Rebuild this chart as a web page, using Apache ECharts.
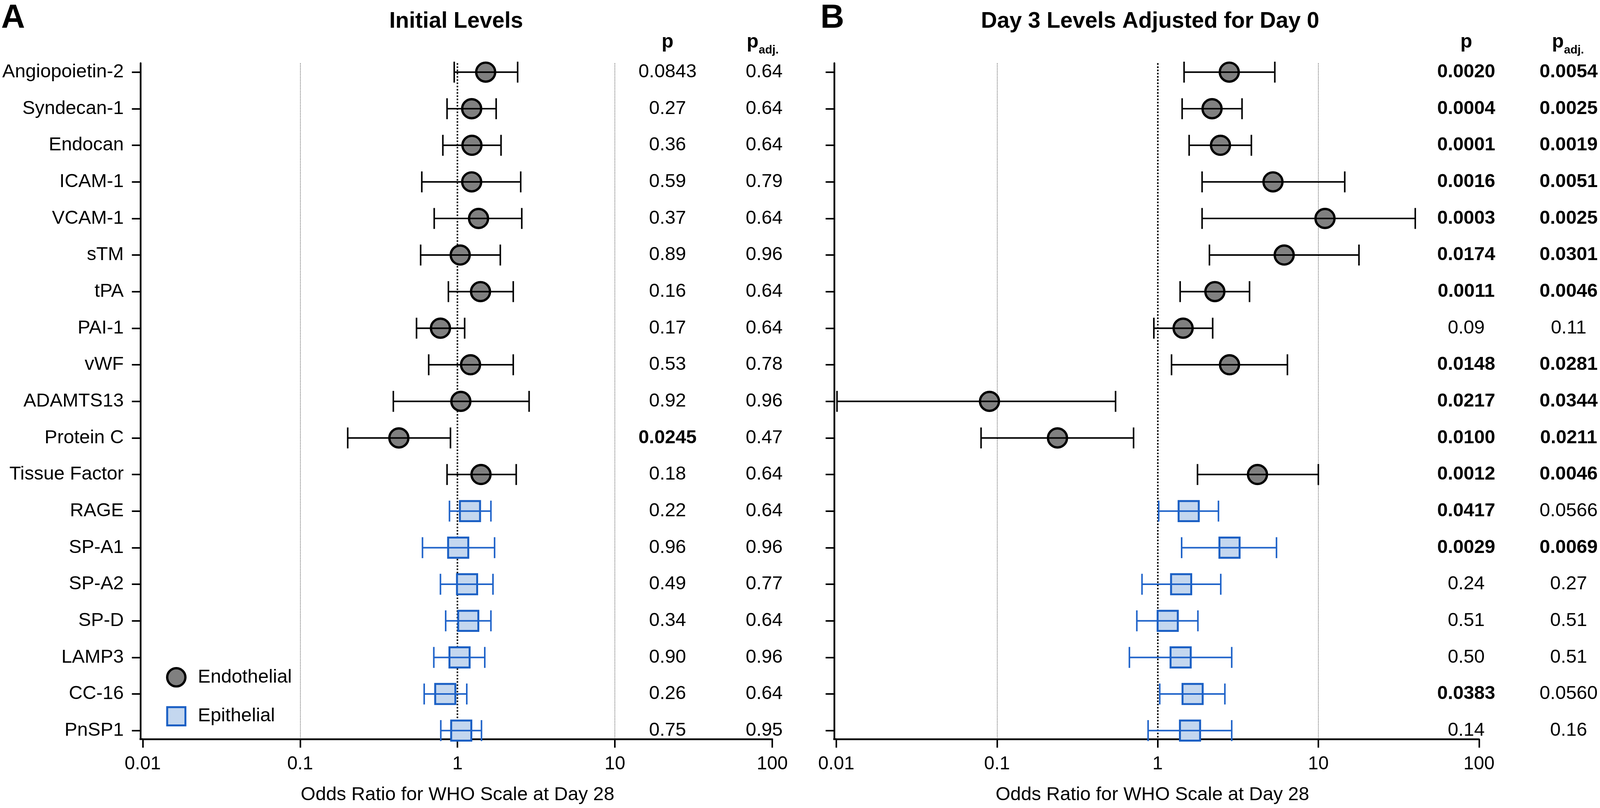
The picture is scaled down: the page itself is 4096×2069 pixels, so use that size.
<!DOCTYPE html>
<html>
<head>
<meta charset="utf-8">
<script src="https://cdn.jsdelivr.net/npm/echarts@6/dist/echarts.min.js"></script>
<style>
html,body{margin:0;padding:0;background:#fff;overflow:hidden}
#c{width:4096px;height:2069px}
</style>
</head>
<body>
<div id="c"></div>
<script>
// ---------------- DATA ----------------
const categories = ['Angiopoietin-2','Syndecan-1','Endocan','ICAM-1','VCAM-1','sTM','tPA','PAI-1','vWF','ADAMTS13','Protein C','Tissue Factor','RAGE','SP-A1','SP-A2','SP-D','LAMP3','CC-16','PnSP1'];
const groups = ['Endothelial','Endothelial','Endothelial','Endothelial','Endothelial','Endothelial','Endothelial','Endothelial','Endothelial','Endothelial','Endothelial','Endothelial','Epithelial','Epithelial','Epithelial','Epithelial','Epithelial','Epithelial','Epithelial'];

// Panel A: Initial Levels (odds ratio, lower CI, upper CI)
const orA = [1.51,1.23,1.235,1.23,1.36,1.04,1.40,0.779,1.21,1.05,0.424,1.41,1.20,1.01,1.15,1.17,1.03,0.836,1.056];
const loA = [0.953,0.858,0.807,0.593,0.711,0.583,0.875,0.549,0.656,0.391,0.2006,0.858,0.889,0.599,0.779,0.841,0.707,0.614,0.783];
const hiA = [2.41,1.76,1.89,2.52,2.56,1.87,2.26,1.11,2.26,2.85,0.902,2.36,1.63,1.72,1.68,1.63,1.49,1.145,1.42];

// Panel B: Day 3 Levels Adjusted for Day 0
const orB = [2.79,2.18,2.46,5.22,11.0,6.13,2.27,1.44,2.80,0.0898,0.238,4.18,1.56,2.80,1.40,1.155,1.39,1.65,1.59];
const loB = [1.46,1.42,1.57,1.89,1.89,2.10,1.38,0.947,1.22,0.0101,0.0796,1.77,1.015,1.41,0.799,0.742,0.667,1.03,0.872];
const hiB = [5.36,3.35,3.83,14.6,40.1,17.9,3.73,2.20,6.42,0.547,0.708,10.0,2.39,5.49,2.47,1.78,2.89,2.62,2.89];

const pA    = ['0.0843','0.27','0.36','0.59','0.37','0.89','0.16','0.17','0.53','0.92','0.0245','0.18','0.22','0.96','0.49','0.34','0.90','0.26','0.75'];
const padjA = ['0.64','0.64','0.64','0.79','0.64','0.96','0.64','0.64','0.78','0.96','0.47','0.64','0.64','0.96','0.77','0.64','0.96','0.64','0.95'];
const pB    = ['0.0020','0.0004','0.0001','0.0016','0.0003','0.0174','0.0011','0.09','0.0148','0.0217','0.0100','0.0012','0.0417','0.0029','0.24','0.51','0.50','0.0383','0.14'];
const padjB = ['0.0054','0.0025','0.0019','0.0051','0.0025','0.0301','0.0046','0.11','0.0281','0.0344','0.0211','0.0046','0.0566','0.0069','0.27','0.51','0.51','0.0560','0.16'];

const xTickValues = [0.01,0.1,1,10,100];
const xTickLabels = ['0.01','0.1','1','10','100'];
const panelTitles = ['Initial Levels','Day 3 Levels Adjusted for Day 0'];
const panelLetters = ['A','B'];
const axisTitle = 'Odds Ratio for WHO Scale at Day 28';
const legendNames = ['Endothelial','Epithelial'];

// ---------------- LAYOUT ----------------
const S = 0.993;
const px = v => v * S;
const FONT = '"Liberation Sans", Arial, Helvetica, sans-serif';
const TOP = 163, BOTTOM = 1906;
const YMIN = -0.244, YMAX = 18.234;
const panels = [
  {left:368, right:1991, yOff:6, pCol:1721, padjCol:1970, pHeadL:1925, title:1176, letterX:3, nameShift:0,
   or:orA, lo:loA, hi:hiA, p:pA, padj:padjA, labels:true},
  {left:2156, right:3813, yOff:5.5, pCol:3780, padjCol:4044, pHeadL:4001, title:2965, letterX:2115, nameShift:27,
   or:orB, lo:loB, hi:hiB, p:pB, padj:padjB, labels:false}
];
const rows = categories.map((_, i) => i);

const GRAY = '#808080', BLACK = '#000000';
const BLUE_LINE = '#1f63c9', BLUE_BORDER = '#1a5fc4', BLUE_FILL = '#c4d7ef';

function errRender(color) {
  return function (params, api) {
    const yv = api.value(2);
    const a = api.coord([api.value(0), yv]);
    const b = api.coord([api.value(1), yv]);
    const h = px(27);
    const st = {stroke: color, lineWidth: px(4), fill: null};
    return {type: 'group', children: [
      {type: 'line', shape: {x1: a[0], y1: a[1], x2: b[0], y2: b[1]}, style: st},
      {type: 'line', shape: {x1: a[0], y1: a[1] - h, x2: a[0], y2: a[1] + h}, style: st},
      {type: 'line', shape: {x1: b[0], y1: b[1] - h, x2: b[0], y2: b[1] + h}, style: st}
    ]};
  };
}

const grid = [], xAxis = [], yAxis = [], series = [];
panels.forEach((P, k) => {
  grid.push({left: px(P.left), top: px(TOP), width: px(P.right - P.left), height: px(BOTTOM - TOP), containLabel: false});
  xAxis.push({
    type: 'log', logBase: 10, gridIndex: k, min: 0.01, max: 100,
    axisLine: {show: true, onZero: false, lineStyle: {color: BLACK, width: px(4.5)}},
    axisTick: {show: true, length: px(22), lineStyle: {color: BLACK, width: px(4)}},
    minorTick: {show: false}, splitLine: {show: false}, minorSplitLine: {show: false},
    axisLabel: {
      show: true, margin: px(40), color: BLACK, fontSize: px(48), fontFamily: FONT,
      formatter: v => { const i = xTickValues.findIndex(t => Math.abs(Math.log10(t) - Math.log10(v)) < 1e-6); return i >= 0 ? xTickLabels[i] : ''; }
    },
    name: axisTitle, nameLocation: 'middle', nameGap: px(119),
    nameTextStyle: {color: BLACK, fontSize: px(49), fontFamily: FONT, padding: [0, px(P.nameShift), 0, 0]}
  });
  yAxis.push({
    type: 'value', gridIndex: k, inverse: true, min: YMIN, max: YMAX, offset: px(P.yOff),
    axisLine: {show: true, lineStyle: {color: BLACK, width: px(4.5)}},
    axisTick: {show: true, customValues: rows, length: px(22), lineStyle: {color: BLACK, width: px(4)}},
    axisLabel: {show: P.labels, customValues: rows, margin: px(43), color: BLACK, fontSize: px(49), fontFamily: FONT,
      formatter: v => categories[Math.round(v)] || ''},
    splitLine: {show: false}
  });
  const endoPts = [], epiPts = [], endoErr = [], epiErr = [];
  rows.forEach(i => {
    if (groups[i] === 'Endothelial') { endoPts.push([P.or[i], i]); endoErr.push([P.lo[i], P.hi[i], i]); }
    else { epiPts.push([P.or[i], i]); epiErr.push([P.lo[i], P.hi[i], i]); }
  });
  series.push({
    type: 'scatter', name: legendNames[0], xAxisIndex: k, yAxisIndex: k, data: endoPts, z: 3,
    symbol: 'circle', symbolSize: px(49),
    itemStyle: {color: GRAY, borderColor: BLACK, borderWidth: px(6), opacity: 1},
    markLine: {silent: true, symbol: 'none', label: {show: false}, animation: false, z: 1,
      data: [
        {xAxis: 0.1, lineStyle: {color: '#4a4a4a', width: px(1.6), type: [px(2), px(2)]}},
        {xAxis: 10, lineStyle: {color: '#4a4a4a', width: px(1.6), type: [px(2), px(2)]}},
        {xAxis: 1, lineStyle: {color: BLACK, width: px(4), type: [px(4), px(4.3)]}}
      ]}
  });
  series.push({
    type: 'scatter', name: legendNames[1], xAxisIndex: k, yAxisIndex: k, data: epiPts, z: 3,
    symbol: 'rect', symbolSize: px(52),
    itemStyle: {color: BLUE_FILL, borderColor: BLUE_BORDER, borderWidth: px(5), opacity: 1}
  });
  series.push({
    type: 'custom', name: 'errEndo' + k, xAxisIndex: k, yAxisIndex: k, data: endoErr, z: 4,
    encode: {x: [0, 1], y: 2}, renderItem: errRender(BLACK), silent: true
  });
  series.push({
    type: 'custom', name: 'errEpi' + k, xAxisIndex: k, yAxisIndex: k, data: epiErr, z: 4,
    encode: {x: [0, 1], y: 2}, renderItem: errRender(BLUE_LINE), silent: true
  });
});

const chart = echarts.init(document.getElementById('c'), null, {renderer: 'canvas', width: 4096, height: 2069});
chart.setOption({
  backgroundColor: '#ffffff',
  animation: false,
  grid, xAxis, yAxis, series,
  legend: {
    show: true, orient: 'vertical', left: px(428), top: px(1720), itemWidth: px(47), itemHeight: px(47), itemGap: px(48),
    selectedMode: false, padding: 0,
    textStyle: {color: BLACK, fontSize: px(49), lineHeight: px(47), fontFamily: FONT, padding: [0, 0, 0, px(27)]},
    data: [
      {name: legendNames[0], icon: 'circle', itemStyle: {color: GRAY, borderColor: BLACK, borderWidth: px(6)}},
      {name: legendNames[1], icon: 'rect', itemStyle: {color: BLUE_FILL, borderColor: BLUE_BORDER, borderWidth: px(5)}}
    ]
  }
});

// ---------------- TEXT ANNOTATIONS ----------------
function txt(x, y, text, size, bold, align) {
  return {type: 'text', x: px(x), y: y, silent: true, z: 10,
    style: {text: text, fill: BLACK, font: (bold ? 'bold ' : '') + px(size) + 'px ' + FONT,
      align: align || 'center', verticalAlign: 'middle', textAlign: align || 'center', textVerticalAlign: 'middle'}};
}
const g = [];
panels.forEach((P, k) => {
  g.push(txt(P.letterX, px(48), panelLetters[k], 85, true, 'left'));
  g.push(txt(P.title, px(56), panelTitles[k], 57.5, true, 'center'));
  g.push(txt(P.pCol, px(109), 'p', 50, true, 'center'));
  g.push(txt(P.pHeadL, px(109), 'p', 50, true, 'left'));
  g.push(txt(P.pHeadL + 31, px(130), 'adj.', 30, true, 'left'));
  rows.forEach(i => {
    const y = chart.convertToPixel({yAxisIndex: k}, i);
    g.push(txt(P.pCol, y, P.p[i], 49, parseFloat(P.p[i]) < 0.05, 'center'));
    g.push(txt(P.padjCol, y, P.padj[i], 49, parseFloat(P.padj[i]) < 0.05, 'center'));
  });
  // close the small corner gap between the offset y-axis and the x-axis line
  const yb = chart.convertToPixel({yAxisIndex: k}, YMAX);
  g.push({type: 'line', silent: true, z: 10,
    shape: {x1: px(P.left - P.yOff - 2.25), y1: yb, x2: px(P.left), y2: yb},
    style: {stroke: BLACK, lineWidth: px(4.5)}});
});
chart.setOption({graphic: {elements: g}});
</script>
</body>
</html>
